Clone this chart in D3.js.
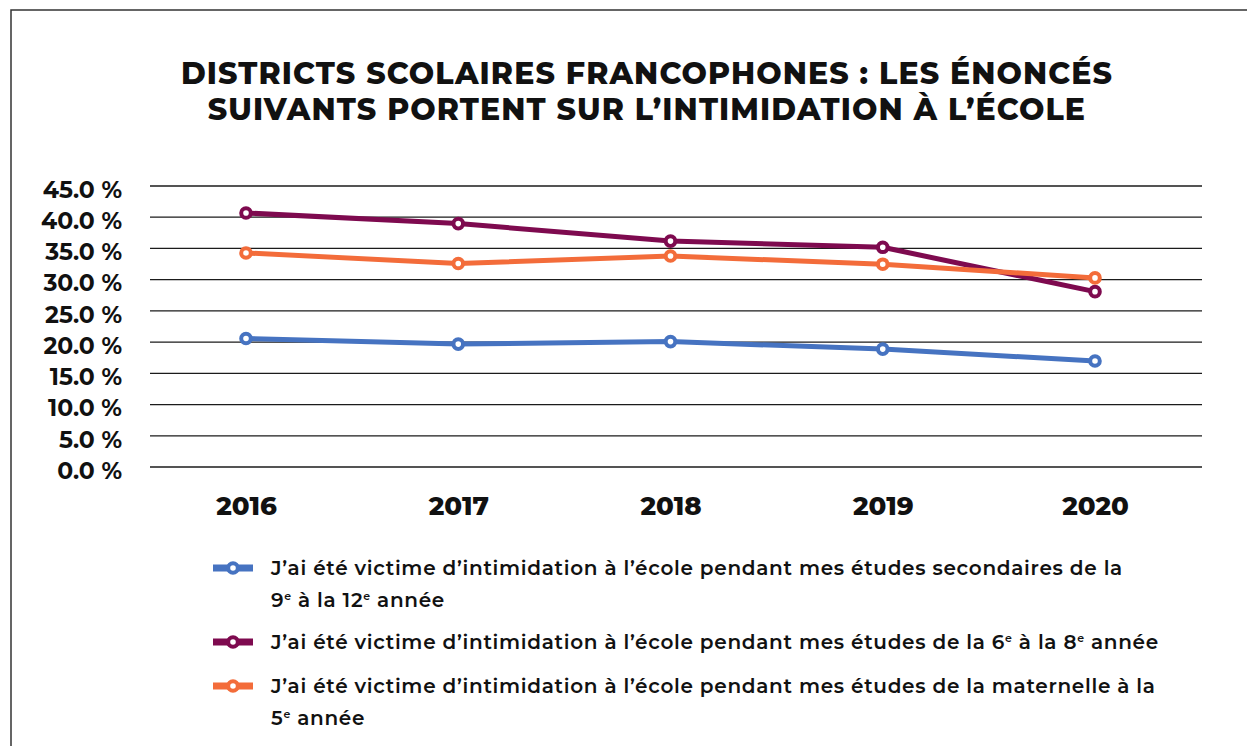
<!DOCTYPE html>
<html>

<head>
    <meta charset="utf-8">
    <style>
        body {
            margin: 0;
            background: #fff;
        }

        svg {
            display: block;
        }

        svg text {
            font-family: Montserrat, Inter, 'DejaVu Sans', sans-serif;
        }

        .title {
            font-size: 30px;
            font-weight: 800;
            letter-spacing: 1.1px;
            fill: #111;
        }

        .y .tick text {
            font-size: 23.5px;
            font-weight: 700;
            fill: #111;
        }

        .x .tick text {
            font-size: 26px;
            font-weight: 800;
            fill: #111;
        }

        .grid line {
            stroke: #1b1b1b;
            stroke-width: 1.3;
        }

        .legend-text {
            font-size: 20px;
            font-weight: 600;
            letter-spacing: 0.7px;
            fill: #111;
        }
    </style>
</head>

<body>
    <svg width="1247" height="746"></svg>

    <script src="https://cdn.jsdelivr.net/npm/d3@7"></script>
    <script>
        // data
        const years = ["2016", "2017", "2018", "2019", "2020"];
        const secondaire = [20.5, 19.6, 20.0, 18.8, 16.9];
        const intermediaire = [40.6, 38.9, 36.1, 35.1, 28.0];
        const elementaire = [34.2, 32.5, 33.7, 32.4, 30.2];
        const yTicks = [0, 5, 10, 15, 20, 25, 30, 35, 40, 45];

        const titleLines = [
            "DISTRICTS SCOLAIRES FRANCOPHONES : LES ÉNONCÉS",
            "SUIVANTS PORTENT SUR L’INTIMIDATION À L’ÉCOLE"
        ];

        // ^e marks a superscript "e"
        const legendLines = [
            ["J’ai été victime d’intimidation à l’école pendant mes études secondaires de la", "9^e à la 12^e année"],
            ["J’ai été victime d’intimidation à l’école pendant mes études de la 6^e à la 8^e année"],
            ["J’ai été victime d’intimidation à l’école pendant mes études de la maternelle à la", "5^e année"]
        ];

        const series = [
            { key: "secondaire", values: secondaire, color: "#4673c1" },
            { key: "intermediaire", values: intermediaire, color: "#7e0a4f" },
            { key: "elementaire", values: elementaire, color: "#f36c3a" }
        ];

        let svg = d3.select("svg");

        // frame (open on the right / bottom like the original crop)
        svg.append("path")
            .attr("d", "M11,760V10H1260")
            .attr("fill", "none")
            .attr("stroke", "#333")
            .attr("stroke-width", 1.5);

        // title
        svg.append("g")
            .selectAll("text")
            .data(titleLines)
            .join("text")
            .attr("class", "title")
            .attr("x", 647)
            .attr("y", (d, i) => 84 + i * 36)
            .attr("text-anchor", "middle")
            .text(d => d);

        let plotLeft = 150,
            plotRight = 1202;

        let x = d3.scalePoint()
            .domain(years)
            .range([246, 1095]);

        let y = d3.scaleLinear()
            .domain([0, 45])
            .range([466.5, 185.5]);

        // y axis + gridlines
        let yAxis = svg.append("g")
            .attr("class", "y axis grid")
            .attr("transform", `translate(${plotLeft},0)`)
            .call(d3.axisLeft(y)
                .tickValues(yTicks)
                .tickSize(-(plotRight - plotLeft))
                .tickPadding(28)
                .tickFormat(d => d3.format(".1f")(d) + " %"))
            .call(g => g.select(".domain").remove())
            .attr("font-family", null);

        yAxis.selectAll(".tick text").attr("dy", "0.5em");

        // x axis labels
        svg.append("g")
            .attr("class", "x axis")
            .attr("transform", "translate(0,466)")
            .call(d3.axisBottom(x).tickSize(0).tickPadding(30.5))
            .call(g => g.select(".domain").remove())
            .attr("font-family", null);

        let line = d3.line()
            .x((d, i) => x(years[i]))
            .y(d => y(d));

        let lines = svg.append("g").attr("class", "lines");

        series.forEach(s => {
            lines.append("path")
                .attr("d", line(s.values))
                .attr("fill", "none")
                .attr("stroke", s.color)
                .attr("stroke-width", 5)
                .attr("stroke-linejoin", "round");

            lines.append("g")
                .selectAll("circle")
                .data(s.values)
                .join("circle")
                .attr("cx", (d, i) => x(years[i]))
                .attr("cy", d => y(d))
                .attr("r", 4.8)
                .attr("fill", "#fff")
                .attr("stroke", s.color)
                .attr("stroke-width", 4);
        });

        // legend
        let legendY = [568, 642, 686];

        function addText(sel, str) {
            str.split(/(\^e)/).forEach(part => {
                if (part === "^e") {
                    sel.append("tspan")
                        .attr("baseline-shift", "super")
                        .attr("font-size", "11px")
                        .text("e");
                } else if (part) {
                    sel.append("tspan").text(part);
                }
            });
        }

        let legend = svg.append("g").attr("class", "legend");

        series.forEach((s, i) => {
            let g = legend.append("g")
                .attr("transform", `translate(0,${legendY[i]})`);

            g.append("line")
                .attr("x1", 213)
                .attr("x2", 253)
                .attr("stroke", s.color)
                .attr("stroke-width", 7);

            g.append("circle")
                .attr("cx", 233)
                .attr("r", 4.8)
                .attr("fill", "#fff")
                .attr("stroke", s.color)
                .attr("stroke-width", 4);

            legendLines[i].forEach((txt, j) => {
                let t = g.append("text")
                    .attr("class", "legend-text")
                    .attr("x", 271)
                    .attr("y", 7 + j * 32);
                addText(t, txt);
            });
        });
    </script>
</body>

</html>
